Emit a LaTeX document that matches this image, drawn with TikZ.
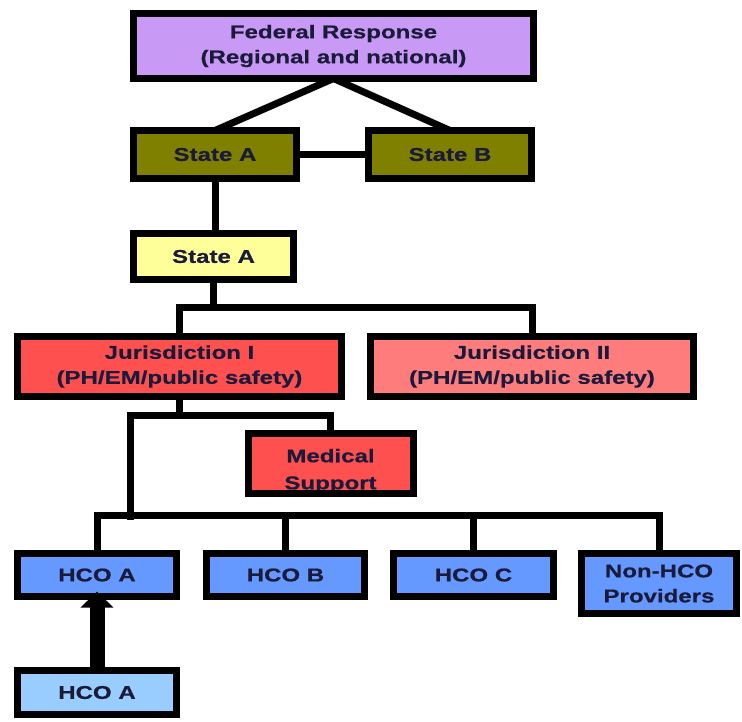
\documentclass[tikz,border=0pt]{standalone}
\usepackage{fontspec}
\setmainfont{Liberation Sans}[FakeStretch=1.3, BoldFeatures={FakeBold=0.6}]
\usetikzlibrary{arrows.meta}
\definecolor{fedc}{HTML}{C99AF5}
\definecolor{olivec}{HTML}{808000}
\definecolor{yellc}{HTML}{FFFF99}
\definecolor{jurone}{HTML}{FF5050}
\definecolor{jurtwo}{HTML}{FF7C7C}
\definecolor{hcoc}{HTML}{6699FF}
\definecolor{hcolight}{HTML}{99CCFF}
\definecolor{txtc}{HTML}{1A1A3A}
\begin{document}
\begin{tikzpicture}[x=1pt,y=-1pt,
  box/.style={draw=black, line width=7pt, rectangle, inner sep=0pt, outer sep=0pt, align=center,
    text=txtc, font=\fontsize{18.5}{25}\selectfont\bfseries},
  conn/.style={draw=black, line width=7pt},
  bigarrow/.style={draw=black, line width=15pt, -{Triangle[width=32pt,length=16pt]}}]
\useasboundingbox (0,0) rectangle (742,721);
% nodes
\node[box, fill=fedc, minimum width=400pt, minimum height=65pt] (Fed) at (333.5,46) {Federal Response\\(Regional and national)};
\node[box, fill=olivec, minimum width=163pt, minimum height=48pt] (StA) at (215,154.5) {State A};
\node[box, fill=olivec, minimum width=163pt, minimum height=48pt] (StB) at (450,154.5) {State B};
\node[box, fill=yellc, minimum width=160pt, minimum height=46pt] (StA2) at (213.5,256.5) {State A};
\node[box, fill=jurone, minimum width=324pt, minimum height=60pt] (JurI) at (179.5,366.5) {Jurisdiction I\\(PH/EM/public safety)};
\node[box, fill=jurtwo, minimum width=323pt, minimum height=60pt] (JurII) at (532,366.5) {Jurisdiction II\\(PH/EM/public safety)};
\node[box, fill=jurone, minimum width=165pt, minimum height=59.5pt] (Med) at (330.5,463.5) {};
\node[box, draw=none, fill=none, font=\fontsize{18.5}{27}\selectfont\bfseries] (MedText) at (330.5,471) {Medical\\Support};
\draw[line width=7pt] (Med.south west) rectangle (Med.north east);
\node[box, fill=hcoc, minimum width=159pt, minimum height=43pt] (HA) at (97,575) {HCO A};
\node[box, fill=hcoc, minimum width=158pt, minimum height=43pt] (HB) at (285.5,575) {HCO B};
\node[box, fill=hcoc, minimum width=160pt, minimum height=43pt] (HC) at (473.5,575) {HCO C};
\node[box, fill=hcoc, minimum width=155pt, minimum height=60pt] (NH) at (659,583.5) {Non-HCO\\Providers};
\node[box, fill=hcolight, minimum width=159pt, minimum height=44pt] (HA2) at (97,692.5) {HCO A};
% coordinates
\coordinate (bus1) at (213.5,307);
\coordinate (jb) at (179.5,415);
\coordinate (jl) at (130,415);
\coordinate (jd) at (130,520);
\coordinate (busL) at (97,515);
\coordinate (busR) at (659,515);
% connectors
\draw[conn] (Fed.south) -- (StA.north);
\draw[conn] (Fed.south) -- (StB.north);
\draw[conn] (StA.east) -- (StB.west);
\draw[conn] (StA.south) -- (StA.south |- StA2.north);
\draw[conn] (StA2.south) -- (bus1);
\draw[conn] (JurI.north) |- (bus1) -| (JurII.north);
\draw[conn] (JurI.south) -- (jb);
\draw[conn] (Med.north) |- (jl) -- (jd);
\draw[conn] (HA.north) -- (busL) -- (busR) -- (NH.north);
\draw[conn] (HB.north) -- (HB.north |- busL);
\draw[conn] (HC.north) -- (HC.north |- busL);
\draw[bigarrow, shorten >=-5pt] (HA2.north) -- (HA.south);
\end{tikzpicture}
\end{document}
